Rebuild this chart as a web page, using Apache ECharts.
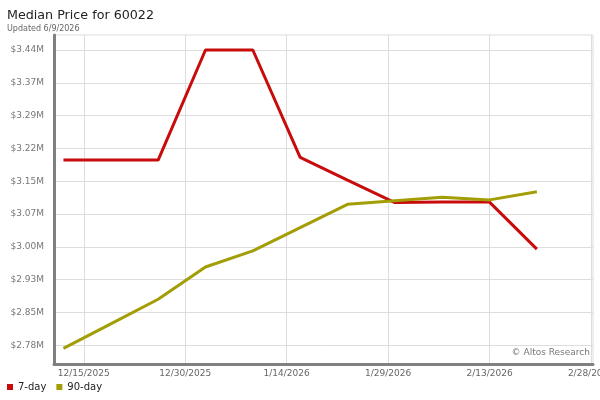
<!DOCTYPE html>
<html>
<head>
<meta charset="utf-8">
<script src="https://cdn.jsdelivr.net/npm/echarts@6/dist/echarts.min.js"></script>
<style>
  html, body { margin: 0; padding: 0; background: #fff; }
  #chart { width: 600px; height: 400px; }
</style>
</head>
<body>
<div id="chart"></div>
<script>
// weekly points (Fridays), prices in $M
const dates = ['2025-12-12', '2025-12-19', '2025-12-26', '2026-01-02', '2026-01-09', '2026-01-16',
  '2026-01-23', '2026-01-30', '2026-02-06', '2026-02-13', '2026-02-20'];
const sevenDay = [3.194, 3.194, 3.194, 3.440, 3.440, 3.200, 3.149, 3.099, 3.100, 3.100, 2.995];
const ninetyDay = [2.773, 2.828, 2.883, 2.955, 2.991, 3.043, 3.095, 3.103, 3.111, 3.105, 3.123];

const yTicks = [2.78, 2.8533, 2.9267, 3.00, 3.0733, 3.1467, 3.22, 3.2933, 3.3667, 3.44];
const xTicks = ['2025-12-15', '2025-12-30', '2026-01-14', '2026-01-29', '2026-02-13', '2026-02-28'];

const FONT = 'DejaVu Sans';
const ts = d => new Date(d + 'T00:00:00').getTime();
const DAY = 86400000;

const chart = echarts.init(document.getElementById('chart'));
chart.setOption({
  animation: false,
  backgroundColor: '#fff',
  title: [
    { text: 'Median Price for 60022', left: 2, top: 4, textStyle: { fontFamily: FONT, fontSize: 12.7, fontWeight: 'normal', color: '#222' } },
    { text: 'Updated 6/9/2026', left: 2, top: 20, textStyle: { fontFamily: FONT, fontSize: 8, fontWeight: 'normal', color: '#666' } },
  ],
  legend: {
    left: 2, bottom: 3,
    icon: 'rect', itemWidth: 6, itemHeight: 6, itemGap: 10,
    textStyle: { fontFamily: FONT, fontSize: 10, color: '#222' },
    data: ['7-day', '90-day'],
  },
  grid: {
    left: 54, right: 7, top: 35, bottom: 36,
    outerBoundsMode: 'none', containLabel: false,
    show: true, borderColor: '#ddd', borderWidth: 1,
  },
  xAxis: {
    type: 'value',
    min: ts('2025-12-15') - 4.4 * DAY,
    max: ts('2026-02-28') + 0.3 * DAY,
    axisLine: { show: true, lineStyle: { color: '#808080', width: 3 } },
    axisTick: { show: false, customValues: xTicks.map(ts) },
    splitLine: { show: true, lineStyle: { color: '#ddd', width: 1 } },
    axisLabel: {
      customValues: xTicks.map(ts),
      hideOverlap: false,
      fontFamily: FONT, fontSize: 9, color: '#666', margin: 5,
      formatter: v => { const d = new Date(v); return (d.getMonth() + 1) + '/' + d.getDate() + '/' + d.getFullYear(); },
    },
  },
  yAxis: {
    type: 'value',
    min: 2.7382, max: 3.4735,
    axisLine: { show: true, lineStyle: { color: '#808080', width: 3 } },
    axisTick: { show: false, customValues: yTicks },
    splitLine: { show: true, lineStyle: { color: '#ddd', width: 1 } },
    axisLabel: {
      customValues: yTicks,
      fontFamily: FONT, fontSize: 9, color: '#777', margin: 10,
      formatter: v => '$' + v.toFixed(2) + 'M',
    },
  },
  graphic: [{
    type: 'text', right: 10, top: 348,
    style: { text: '© Altos Research', font: '9px "DejaVu Sans"', fill: '#777' },
  }],
  series: [
    {
      name: '7-day', type: 'line', showSymbol: false, color: '#c80c0c',
      lineStyle: { width: 3 },
      data: dates.map((d, i) => [ts(d), sevenDay[i]]),
    },
    {
      name: '90-day', type: 'line', showSymbol: false, color: '#a39e06',
      lineStyle: { width: 3 },
      data: dates.map((d, i) => [ts(d), ninetyDay[i]]),
    },
  ],
});
</script>
</body>
</html>
